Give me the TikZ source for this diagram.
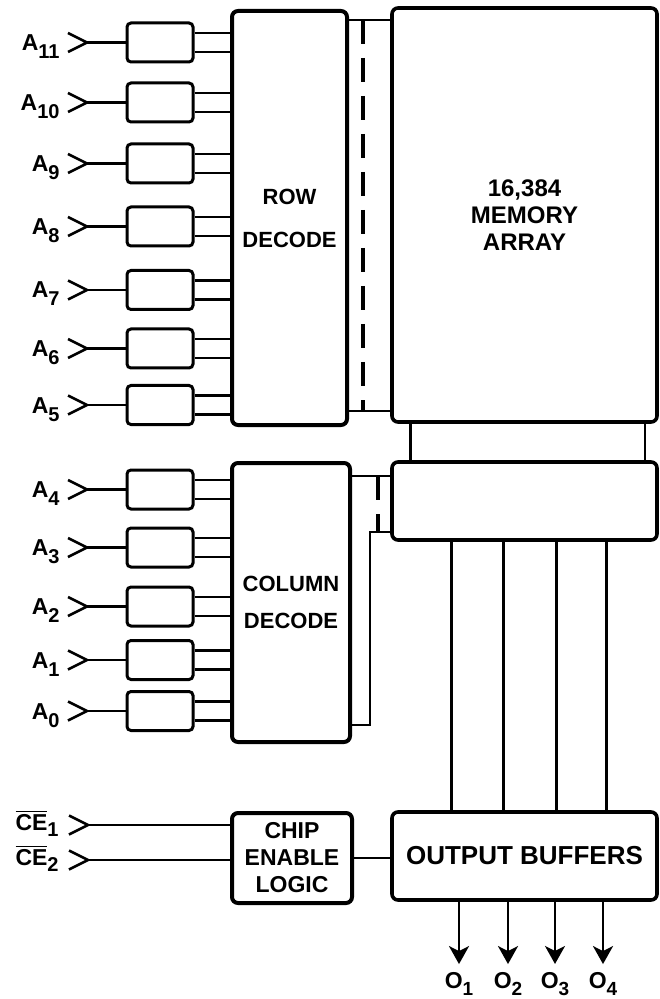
\documentclass[tikz,border=0pt]{standalone}
\usepackage{fontspec}
\setmainfont{Liberation Sans}
\usepackage{tikz}
\usetikzlibrary{arrows.meta, positioning}
\newcommand\addr[2]{#1\raisebox{-4pt}{\fontsize{10}{10}\selectfont #2}}
\newcommand\outpin[1]{O\raisebox{-3.5pt}{\fontsize{9.5}{9.5}\selectfont #1}}
\newcommand\cebar[1]{$\overline{\hbox{CE}}$\raisebox{-3pt}{\fontsize{10}{10}\selectfont #1}}
\tikzset{
  addrbuf/.style={rectangle, rounded corners=2pt, draw, line width=1.5pt,
    minimum width=33pt, minimum height=19.5pt, inner sep=0pt},
  decode/.style={rectangle, rounded corners=3pt, draw, line width=2pt,
    align=center, inner sep=0pt, font=\bfseries\fontsize{11}{13}\selectfont},
  bigbox/.style={decode, line width=1.8pt},
  wire/.style={line width=1.3pt},
  busdash/.style={line width=2pt, dash pattern=on 12pt off 7pt},
  outarrow/.style={wire, -{Stealth[length=9pt,width=10pt,inset=2.5pt]}, shorten >=4pt},
  pinlbl/.style={font=\bfseries\fontsize{11.5}{11.5}\selectfont, inner sep=0pt},
  chev/.pic={\draw[wire] (-9.5pt,4.75pt) -- (0,0) -- (-9.5pt,-4.75pt);}
}
\begin{document}
\begin{tikzpicture}[x=0.5pt, y=-0.5pt]
  \useasboundingbox (0,0) rectangle (659,999);
  % decoders, array, buffers
  \node[decode, minimum width=57.5pt, minimum height=207pt] (rowdec) at (289.5,218)
    {ROW\\[8.5pt]DECODE};
  \node[decode, minimum width=59pt, minimum height=139.5pt] (coldec) at (291,602.5)
    {COLUMN\\[5.5pt]DECODE};
  \node[bigbox, minimum width=132.5pt, minimum height=207pt,
    font=\bfseries\fontsize{12}{13.5}\selectfont] (mem) at (524.5,215)
    {16,384\\MEMORY\\ARRAY};
  \node[bigbox, minimum width=132.5pt, minimum height=39pt] (sense) at (524.5,501) {};
  \node[bigbox, minimum width=132.5pt, minimum height=44pt,
    font=\bfseries\fontsize{13}{13}\selectfont] (outbuf) at (524.5,856) {OUTPUT BUFFERS};
  \node[decode, minimum width=60pt, minimum height=45pt,
    font=\bfseries\fontsize{11.5}{13.5}\selectfont] (chip) at (292,858) {CHIP\\ENABLE\\LOGIC};
  % row address inputs
  \foreach \n/\y in {11/42.5,10/102.5,9/163.5,8/226.5,7/290,6/348.5,5/405}{
    \node[addrbuf] (b\n) at (160,\y) {};
    \coordinate (i\n) at (87,\y);
    \node[pinlbl, anchor=base east] (a\n) at (60,\y+8) {\addr{A}{\n}};
    \pic at (i\n) {chev};
    \draw[wire] (i\n) -- (b\n.west);
    \coordinate (u\n) at ([yshift=4.75pt]b\n.east);
    \coordinate (v\n) at ([yshift=-4.75pt]b\n.east);
    \draw[wire] (u\n) -- (u\n -| rowdec.west);
    \draw[wire] (v\n) -- (v\n -| rowdec.west);
  }
  % column address inputs
  \foreach \n/\y in {4/489.5,3/547.5,2/606.5,1/660,0/711}{
    \node[addrbuf] (b\n) at (160,\y) {};
    \coordinate (i\n) at (87,\y);
    \node[pinlbl, anchor=base east] (a\n) at (60,\y+8) {\addr{A}{\n}};
    \pic at (i\n) {chev};
    \draw[wire] (i\n) -- (b\n.west);
    \coordinate (u\n) at ([yshift=4.75pt]b\n.east);
    \coordinate (v\n) at ([yshift=-4.75pt]b\n.east);
    \draw[wire] (u\n) -- (u\n -| coldec.west);
    \draw[wire] (v\n) -- (v\n -| coldec.west);
  }
  % row bus
  \coordinate (rt) at (363,20);
  \coordinate (rb) at (363,411);
  \draw[wire] (rt -| rowdec.east) -- (rt -| mem.west);
  \draw[wire] (rb -| rowdec.east) -- (rb -| mem.west);
  \draw[busdash] (rt) -- (rb);
  % array to column block
  \draw[wire] ([xshift=10pt]mem.south west) -- ([xshift=10pt]sense.north west);
  \draw[wire] ([xshift=-7pt]mem.south east) -- ([xshift=-7pt]sense.north east);
  % column bus
  \coordinate (ct) at (378,476);
  \coordinate (cb) at (378,532);
  \coordinate (cl) at (370,725);
  \draw[wire] (ct -| coldec.east) -- (ct -| sense.west);
  \draw[busdash] (ct) -- (cb);
  \draw[wire] (cl -| coldec.east) -- (cl) |- (cb -| sense.west);
  % data lines
  \foreach \dx in {30.5,56.5,83,108}
    \draw[wire] ([xshift=\dx pt]sense.south west) -- ([xshift=\dx pt]outbuf.north west);
  % chip enable
  \foreach \k/\y in {1/825,2/860}{
    \coordinate (e\k) at (88,\y);
    \pic at (e\k) {chev};
    \node[pinlbl, anchor=base east] (c\k) at (59,\y+5.5) {\cebar{\k}};
    \draw[wire] (e\k) -- (e\k -| chip.west);
  }
  \draw[wire] (chip.east) -- (chip.east -| outbuf.west);
  % outputs
  \foreach \k/\x in {1/459,2/508,3/555,4/603}{
    \node[pinlbl] (o\k) at (\x,984) {\outpin{\k}};
    \draw[outarrow] (outbuf.south -| o\k) -- (o\k.north);
  }
\end{tikzpicture}
\end{document}
